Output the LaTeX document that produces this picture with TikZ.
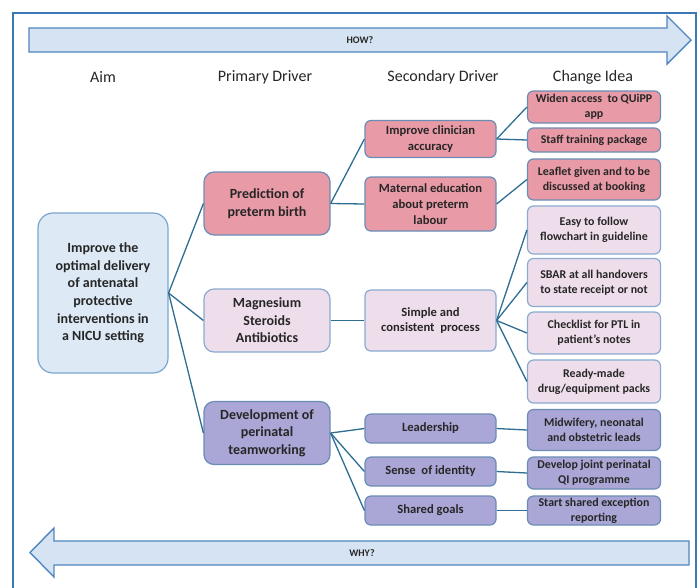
\documentclass[tikz,border=0pt]{standalone}
\usepackage{fontspec}
\setmainfont{Carlito}
\definecolor{framec}{HTML}{3C78B4}
\definecolor{arrowfill}{HTML}{D6E3F3}
\definecolor{arrowdraw}{HTML}{4F86C0}
\definecolor{aimfill}{HTML}{DDE9F5}
\definecolor{aimdraw}{HTML}{7AA6CE}
\definecolor{pinkc}{HTML}{E99AA7}
\definecolor{lavc}{HTML}{EEDEEC}
\definecolor{purpc}{HTML}{AAA6D6}
\definecolor{boxdraw}{HTML}{6A8DB5}
\definecolor{lavdraw}{HTML}{8AAAD0}
\definecolor{linkc}{HTML}{2F6E92}
\definecolor{textc}{HTML}{262626}
\tikzset{
  base/.style={draw=boxdraw, line width=1.2pt, align=center, inner sep=1pt, text=textc},
  aimbox/.style={base, draw=aimdraw, fill=aimfill, rounded corners=15pt,
    minimum width=130pt, minimum height=160pt, font=\bfseries\fontsize{14}{17.6}\selectfont},
  prim/.style={base, rounded corners=10pt, minimum width=126pt, minimum height=63pt,
    font=\bfseries\fontsize{14}{17.6}\selectfont},
  sec/.style={base, rounded corners=6pt, minimum width=131pt, font=\bfseries\fontsize{12.6}{15.8}\selectfont},
  idea/.style={base, rounded corners=6pt, minimum width=133pt, font=\bfseries\fontsize{11.9}{15}\selectfont},
  pinkb/.style={fill=pinkc},
  lavb/.style={fill=lavc, draw=lavdraw},
  purpb/.style={fill=purpc},
  heading/.style={font=\fontsize{16}{19}\selectfont, text=textc},
  link/.style={draw=linkc, line width=1.3pt},
  bigarrow/.style={fill=arrowfill, draw=arrowdraw, line width=1.4pt, line join=miter},
}
\begin{document}
\begin{tikzpicture}[x=1pt,y=1pt]
\useasboundingbox (0,0) rectangle (700,-587);
\fill[white] (0,0) rectangle (700,-587);
% frame
\draw[framec, line width=1.2pt] (13,-600) -- (13,-13) -- (696,-13) -- (696,-600);
% HOW arrow
\draw[bigarrow] (29,-28) -- (667,-28) -- (667,-16) -- (691,-40) -- (667,-64) -- (667,-52) -- (29,-52) -- cycle;
\node[font=\bfseries\fontsize{10}{12}\selectfont, text=textc] (how) at (360,-40) {HOW?};
% WHY arrow
\draw[bigarrow] (689,-541) -- (54,-541) -- (54,-528) -- (30,-552.5) -- (54,-577) -- (54,-565) -- (689,-565) -- cycle;
\node[font=\bfseries\fontsize{10}{12}\selectfont, text=textc] (why) at (362,-553) {WHY?};
% headings
\node[heading] (h1) at (103,-77) {Aim};
\node[heading] (h2) at (265,-77) {Primary Driver};
\node[heading] (h3) at (443,-77) {Secondary Driver};
\node[heading] (h4) at (593,-77) {Change Idea};
% aim
\node[aimbox] (aim) at (103,-293) {Improve the\\optimal delivery\\of antenatal\\protective\\interventions in\\a NICU setting};
% primary
\node[prim, pinkb] (p1) at (267,-203.5) {Prediction of\\preterm birth};
\node[prim, lavb] (p2) at (267,-320.5) {Magnesium\\Steroids\\Antibiotics};
\node[prim, purpb] (p3) at (267,-433) {Development of\\perinatal\\teamworking};
% secondary
\node[sec, pinkb, minimum height=37pt] (s1) at (430.5,-139) {Improve clinician\\accuracy};
\node[sec, pinkb, minimum height=54pt] (s2) at (430.5,-204) {Maternal education\\about preterm\\labour};
\node[sec, lavb, minimum height=61pt] (s3) at (430.5,-320.5) {Simple and\\consistent\ \ process};
\node[sec, purpb, minimum height=29pt] (s4) at (430.5,-428.5) {Leadership};
\node[sec, purpb, minimum height=29pt] (s5) at (430.5,-471.5) {Sense\ \ of identity};
\node[sec, purpb, minimum height=29pt] (s6) at (430.5,-510.5) {Shared goals};
% change ideas
\node[idea, pinkb, minimum height=32pt] (c1) at (594,-107) {Widen access\ \ to QUiPP\\app};
\node[idea, pinkb, minimum height=24pt] (c2) at (594,-140) {Staff training package};
\node[idea, pinkb, minimum height=41pt] (c3) at (594,-179.5) {Leaflet given and to be\\discussed at booking};
\node[idea, lavb, minimum height=48pt] (c4) at (594,-230) {Easy to follow\\flowchart in guideline};
\node[idea, lavb, minimum height=48pt] (c5) at (594,-282.5) {SBAR at all handovers\\to state receipt or not};
\node[idea, lavb, minimum height=42pt] (c6) at (594,-333) {Checklist for PTL in\\patient's notes};
\node[idea, lavb, minimum height=43pt] (c7) at (594,-381.5) {Ready-made\\drug/equipment packs};
\node[idea, purpb, minimum height=41pt] (c8) at (594,-430) {Midwifery, neonatal\\and obstetric leads};
\node[idea, purpb, minimum height=32pt] (c9) at (594,-473) {Develop joint perinatal\\QI programme};
\node[idea, purpb, minimum height=29pt] (c10) at (594,-510.5) {Start shared exception\\reporting};
% links aim -> primary
\draw[link] (aim.east) -- (p1.west);
\draw[link] (aim.east) -- (p2.west);
\draw[link] (aim.east) -- (p3.west);
% primary -> secondary
\draw[link] (p1.east) -- (s1.west);
\draw[link] (p1.east) -- (s2.west);
\draw[link] (p2.east) -- (s3.west);
\draw[link] (p3.east) -- (s4.west);
\draw[link] (p3.east) -- (s5.west);
\draw[link] (p3.east) -- (s6.west);
% secondary -> ideas
\draw[link] (s1.east) -- (c1.west);
\draw[link] (s1.east) -- (c2.west);
\draw[link] (s2.east) -- (c3.west);
\draw[link] (s3.east) -- (c4.west);
\draw[link] (s3.east) -- (c5.west);
\draw[link] (s3.east) -- (c6.west);
\draw[link] (s3.east) -- (c7.west);
\draw[link] (s4.east) -- (c8.west);
\draw[link] (s5.east) -- (c9.west);
\draw[link] (s6.east) -- (c10.west);
\end{tikzpicture}
\end{document}
